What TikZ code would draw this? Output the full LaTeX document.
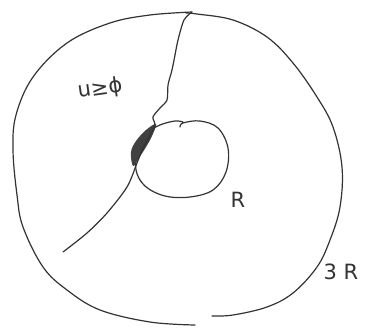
\documentclass[tikz,border=0pt]{standalone}
\usepackage{fontspec}
\setmainfont{DejaVu Sans}
\begin{document}
\begin{tikzpicture}[x=1pt,y=-1pt,
  stroke/.style={draw=black!80, line width=1.2pt, line cap=round, line join=round},
  lbl/.style={font=\fontsize{21}{21}\selectfont, text=black!80}]
\useasboundingbox (0,0) rectangle (369,327);
% outer curve (left part)
\draw[stroke] plot[smooth, tension=0.6] coordinates {
 (192,12) (150,15) (110,23) (67,43) (33,77) (16,115) (13,150) (17,195) (23,227) (43,267) (67,290) (100,310) (150,322) (195,325)};
% outer curve (right part)
\draw[stroke] plot[smooth, tension=0.6] coordinates {
 (186,13) (197,14) (233,20) (267,37) (293,63) (317,97) (333,127) (342,167) (340,207) (330,240) (317,267) (293,293) (267,307) (233,315) (212,316)};
% inner circle
\draw[stroke] plot[smooth, tension=0.6] coordinates {
 (180,127) (183,123) (200,121) (218,128) (228,148) (226,172) (213,190) (190,197) (165,196) (145,186) (136,170) (138,150) (148,133) (160,125) (175,121) (183,122)};
% shaded lens
\fill[black!75] plot[smooth cycle, tension=0.6] coordinates {
 (156,124) (146,130) (136,141) (131,152) (133,166) (139,158) (146,147) (152,136)};
% radial line
\draw[stroke] plot[smooth, tension=0.5] coordinates {
 (192,12) (184,20) (178,40) (175,55) (172,70) (168,85) (167,100) (160,108) (153,117) (155,125) (150,135) (143,148) (137,163) (127,187) (107,213) (87,233) (63,252)};
\node[lbl, rotate=8] (lab1) at (100,89) {u≥ϕ};
\node[lbl] (lab2) at (238,200) {R};
\node[lbl] (lab3) at (341,272) {3 R};
\end{tikzpicture}
\end{document}
